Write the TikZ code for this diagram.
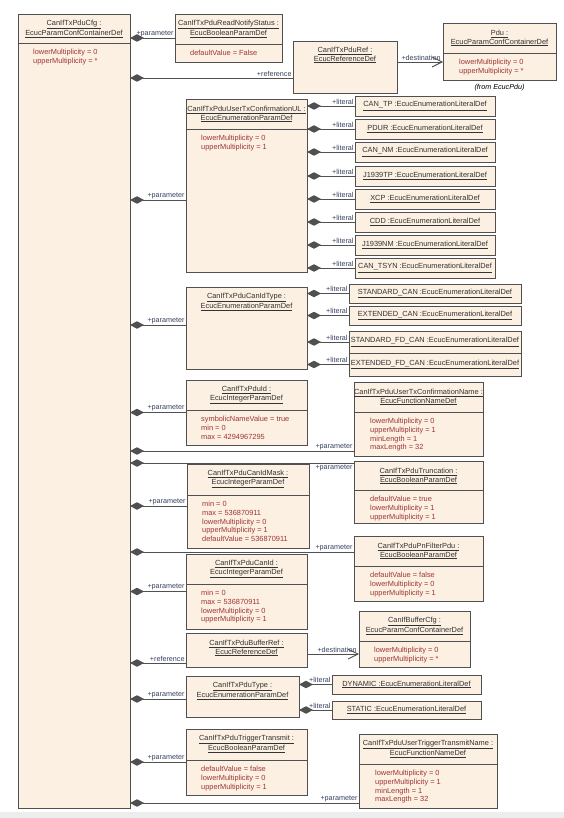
\documentclass[tikz,border=0pt]{standalone}
\usepackage{fontspec}
\setmainfont{Liberation Sans}
\usetikzlibrary{arrows.meta}
\definecolor{boxfill}{HTML}{FBF0E1}
\definecolor{boxline}{HTML}{505050}
\definecolor{attrred}{HTML}{A03434}
\definecolor{lblblue}{HTML}{35415E}
\definecolor{ttlgray}{HTML}{333333}

\begin{document}
\begin{tikzpicture}[x=1pt,y=-1pt,
	ebox/.style={draw=boxline, fill=boxfill, line width=0.9pt, anchor=north west, inner sep=0pt, outer sep=0pt},
	lit/.style={draw=boxline, fill=boxfill, line width=0.9pt, inner sep=0pt, outer sep=0pt, font=\fontsize{7.4}{8.8}\selectfont, text=ttlgray},
	ttl/.style={align=center, inner sep=0pt, font=\fontsize{7.4}{8.8}\selectfont, text=ttlgray},
	attr/.style={align=left, anchor=north west, inner sep=0pt, font=\fontsize{7.4}{8.8}\selectfont, text=attrred},
	sepl/.style={draw=boxline, line width=0.9pt},
	comp/.style={draw=boxline, line width=0.9pt, {Diamond[length=14pt,width=7.5pt]}-},
	dest/.style={draw=boxline, line width=0.9pt, -{Straight Barb[length=10pt,width=10pt]}},
	lbl/.style={inner sep=1pt, font=\fontsize{7.2}{8}\selectfont, text=lblblue}]

	\useasboundingbox (0,0) rectangle (564,818);
	\fill[white] (0,0) rectangle (564,818);
	\fill[black!7] (0,812) rectangle (564,818);

	% container
	\node[ebox, minimum width=112pt, minimum height=794pt] (cfg) at (18,14) {};
	\node[ttl] at ([yshift=-15pt]cfg.north) {\underline{CanIfTxPduCfg :}\\\underline{EcucParamConfContainerDef}};
	\draw[sepl] ([yshift=-29pt]cfg.north west) -- ([yshift=-29pt]cfg.north east);
	\node[attr] at ([xshift=15pt,yshift=-35pt]cfg.north west) {lowerMultiplicity = 0\\upperMultiplicity = *};

	% top row
	\node[ebox, minimum width=107pt, minimum height=48pt] (rns) at (175,14) {};
	\node[ttl] at ([yshift=-15pt]rns.north) {\underline{CanIfTxPduReadNotifyStatus :}\\\underline{EcucBooleanParamDef}};
	\draw[sepl] ([yshift=-30pt]rns.north west) -- ([yshift=-30pt]rns.north east);
	\node[attr] at ([xshift=15pt,yshift=-36pt]rns.north west) {defaultValue = False};

	\node[ebox, minimum width=104pt, minimum height=52pt] (ref) at (293,41) {};
	\node[ttl] at ([yshift=-14pt]ref.north) {\underline{CanIfTxPduRef :}\\\underline{EcucReferenceDef}};

	\node[ebox, minimum width=113pt, minimum height=57pt] (pdu) at (443,23) {};
	\node[ttl] at ([yshift=-15pt]pdu.north) {\underline{Pdu :}\\\underline{EcucParamConfContainerDef}};
	\draw[sepl] ([yshift=-30pt]pdu.north west) -- ([yshift=-30pt]pdu.north east);
	\node[attr] at ([xshift=16pt,yshift=-36pt]pdu.north west) {lowerMultiplicity = 0\\upperMultiplicity = *};
	\node[lbl, text=black, font=\fontsize{7.2}{8}\selectfont\itshape] (frompdu) at ([yshift=-8pt]pdu.south) {(from EcucPdu)};

	% UserTxConfirmationUL
	\node[ebox, minimum width=121pt, minimum height=173pt] (ul) at (186,99) {};
	\node[ttl] at ([yshift=-15pt]ul.north) {\underline{CanIfTxPduUserTxConfirmationUL :}\\\underline{EcucEnumerationParamDef}};
	\draw[sepl] ([yshift=-30pt]ul.north west) -- ([yshift=-30pt]ul.north east);
	\node[attr] at ([xshift=15pt,yshift=-36pt]ul.north west) {lowerMultiplicity = 0\\upperMultiplicity = 1};

	\node[lit, minimum width=140pt, minimum height=20pt] (l1) at (425,106) {\underline{CAN\_TP :EcucEnumerationLiteralDef}};
	\node[lit, minimum width=140pt, minimum height=20pt] (l2) at (425,129) {\underline{PDUR :EcucEnumerationLiteralDef}};
	\node[lit, minimum width=140pt, minimum height=20pt] (l3) at (425,152) {\underline{CAN\_NM :EcucEnumerationLiteralDef}};
	\node[lit, minimum width=140pt, minimum height=20pt] (l4) at (425,176) {\underline{J1939TP :EcucEnumerationLiteralDef}};
	\node[lit, minimum width=140pt, minimum height=20pt] (l5) at (425,199) {\underline{XCP :EcucEnumerationLiteralDef}};
	\node[lit, minimum width=140pt, minimum height=20pt] (l6) at (425,222) {\underline{CDD :EcucEnumerationLiteralDef}};
	\node[lit, minimum width=140pt, minimum height=20pt] (l7) at (425,245) {\underline{J1939NM :EcucEnumerationLiteralDef}};
	\node[lit, minimum width=140pt, minimum height=20pt] (l8) at (425,268) {\underline{CAN\_TSYN :EcucEnumerationLiteralDef}};

	% CanIdType
	\node[ebox, minimum width=121pt, minimum height=82pt] (cit) at (186,287) {};
	\node[ttl] at ([yshift=-15pt]cit.north) {\underline{CanIfTxPduCanIdType :}\\\underline{EcucEnumerationParamDef}};

	\node[lit, minimum width=172pt, minimum height=19pt] (m1) at (435,293.5) {\underline{STANDARD\_CAN :EcucEnumerationLiteralDef}};
	\node[lit, minimum width=172pt, minimum height=19pt] (m2) at (435,315.5) {\underline{EXTENDED\_CAN :EcucEnumerationLiteralDef}};
	\node[lit, minimum width=172pt, minimum height=22pt] (m3) at (435,342) {\underline{STANDARD\_FD\_CAN :EcucEnumerationLiteralDef}};
	\node[lit, minimum width=172pt, minimum height=23pt] (m4) at (435,364.5) {\underline{EXTENDED\_FD\_CAN :EcucEnumerationLiteralDef}};

	% PduId, UserTxConfirmationName
	\node[ebox, minimum width=121pt, minimum height=65pt] (pid) at (186,380) {};
	\node[ttl] at ([yshift=-15pt]pid.north) {\underline{CanIfTxPduId :}\\\underline{EcucIntegerParamDef}};
	\draw[sepl] ([yshift=-30pt]pid.north west) -- ([yshift=-30pt]pid.north east);
	\node[attr] at ([xshift=15pt,yshift=-36pt]pid.north west) {symbolicNameValue = true\\min = 0\\max = 4294967295};

	\node[ebox, minimum width=129pt, minimum height=74pt] (utcn) at (354,382) {};
	\node[ttl] at ([yshift=-15pt]utcn.north) {\underline{CanIfTxPduUserTxConfirmationName :}\\\underline{EcucFunctionNameDef}};
	\draw[sepl] ([yshift=-30pt]utcn.north west) -- ([yshift=-30pt]utcn.north east);
	\node[attr] at ([xshift=16pt,yshift=-36pt]utcn.north west) {lowerMultiplicity = 0\\upperMultiplicity = 1\\minLength = 1\\maxLength = 32};

	% Truncation, CanIdMask
	\node[ebox, minimum width=129pt, minimum height=62pt] (trc) at (354,461) {};
	\node[ttl] at ([yshift=-15pt]trc.north) {\underline{CanIfTxPduTruncation :}\\\underline{EcucBooleanParamDef}};
	\draw[sepl] ([yshift=-29pt]trc.north west) -- ([yshift=-29pt]trc.north east);
	\node[attr] at ([xshift=16pt,yshift=-35pt]trc.north west) {defaultValue = true\\lowerMultiplicity = 1\\upperMultiplicity = 1};

	\node[ebox, minimum width=122pt, minimum height=84pt] (cim) at (187,464) {};
	\node[ttl] at ([yshift=-15pt]cim.north) {\underline{CanIfTxPduCanIdMask :}\\\underline{EcucIntegerParamDef}};
	\draw[sepl] ([yshift=-31pt]cim.north west) -- ([yshift=-31pt]cim.north east);
	\node[attr] at ([xshift=15pt,yshift=-37pt]cim.north west) {min = 0\\max = 536870911\\lowerMultiplicity = 0\\upperMultiplicity = 1\\defaultValue = 536870911};

	% PnFilterPdu, CanId
	\node[ebox, minimum width=129pt, minimum height=65pt] (pnf) at (354,536) {};
	\node[ttl] at ([yshift=-15pt]pnf.north) {\underline{CanIfTxPduPnFilterPdu :}\\\underline{EcucBooleanParamDef}};
	\draw[sepl] ([yshift=-30pt]pnf.north west) -- ([yshift=-30pt]pnf.north east);
	\node[attr] at ([xshift=16pt,yshift=-36pt]pnf.north west) {defaultValue = false\\lowerMultiplicity = 0\\upperMultiplicity = 1};

	\node[ebox, minimum width=121pt, minimum height=75pt] (cid) at (186,554) {};
	\node[ttl] at ([yshift=-15pt]cid.north) {\underline{CanIfTxPduCanId :}\\\underline{EcucIntegerParamDef}};
	\draw[sepl] ([yshift=-30pt]cid.north west) -- ([yshift=-30pt]cid.north east);
	\node[attr] at ([xshift=15pt,yshift=-36pt]cid.north west) {min = 0\\max = 536870911\\lowerMultiplicity = 0\\upperMultiplicity = 1};

	% BufferRef, BufferCfg
	\node[ebox, minimum width=121pt, minimum height=34pt] (bref) at (186,633) {};
	\node[ttl] at ([yshift=-15pt]bref.north) {\underline{CanIfTxPduBufferRef :}\\\underline{EcucReferenceDef}};

	\node[ebox, minimum width=111pt, minimum height=56pt] (bcfg) at (359,611) {};
	\node[ttl] at ([yshift=-15pt]bcfg.north) {\underline{CanIfBufferCfg :}\\\underline{EcucParamConfContainerDef}};
	\draw[sepl] ([yshift=-30pt]bcfg.north west) -- ([yshift=-30pt]bcfg.north east);
	\node[attr] at ([xshift=15pt,yshift=-36pt]bcfg.north west) {lowerMultiplicity = 0\\upperMultiplicity = *};

	% PduType
	\node[ebox, minimum width=113pt, minimum height=41pt] (typ) at (186,676) {};
	\node[ttl] at ([yshift=-15pt]typ.north) {\underline{CanIfTxPduType :}\\\underline{EcucEnumerationParamDef}};

	\node[lit, minimum width=149pt, minimum height=19pt] (n1) at (406.5,684.5) {\underline{DYNAMIC :EcucEnumerationLiteralDef}};
	\node[lit, minimum width=149pt, minimum height=18pt] (n2) at (406.5,710) {\underline{STATIC :EcucEnumerationLiteralDef}};

	% TriggerTransmit, UserTriggerTransmitName
	\node[ebox, minimum width=121pt, minimum height=66pt] (trg) at (186,729) {};
	\node[ttl] at ([yshift=-15pt]trg.north) {\underline{CanIfTxPduTriggerTransmit :}\\\underline{EcucBooleanParamDef}};
	\draw[sepl] ([yshift=-31pt]trg.north west) -- ([yshift=-31pt]trg.north east);
	\node[attr] at ([xshift=15pt,yshift=-37pt]trg.north west) {defaultValue = false\\lowerMultiplicity = 0\\upperMultiplicity = 1};

	\node[ebox, minimum width=138pt, minimum height=74pt] (utt) at (359,734) {};
	\node[ttl] at ([yshift=-15pt]utt.north) {\underline{CanIfTxPduUserTriggerTransmitName :}\\\underline{EcucFunctionNameDef}};
	\draw[sepl] ([yshift=-30pt]utt.north west) -- ([yshift=-30pt]utt.north east);
	\node[attr] at ([xshift=16pt,yshift=-36pt]utt.north west) {lowerMultiplicity = 0\\upperMultiplicity = 1\\minLength = 1\\maxLength = 32};

	% connector ends off the box centres
	\coordinate (refin)  at ([yshift=-11pt]ref.west);
	\coordinate (refout) at ([yshift=5pt]ref.east);
	\coordinate (ulin)   at ([yshift=-14.5pt]ul.west);
	\coordinate (citin)  at ([yshift=3pt]cit.west);
	\coordinate (utcnin) at ([yshift=-32pt]utcn.west);
	\coordinate (trcin)  at ([yshift=29pt]trc.west);
	\coordinate (pnfin)  at ([yshift=16.5pt]pnf.west);
	\coordinate (brefin) at ([yshift=-13pt]bref.west);
	\coordinate (brefout) at ([yshift=-4pt]bref.east);
	\coordinate (typin)  at ([yshift=-2.5pt]typ.west);
	\coordinate (uttin)  at ([yshift=-32pt]utt.west);

	% container connectors
	\draw[comp] (cfg.east |- rns) -- node[pos=1, lbl, above left] {+parameter} (rns);
	\draw[comp] (cfg.east |- refin) -- node[pos=1, lbl, above left] {+reference} (refin);
	\draw[comp] (cfg.east |- ulin) -- node[pos=1, lbl, above left] {+parameter} (ulin);
	\draw[comp] (cfg.east |- citin) -- node[pos=1, lbl, above left] {+parameter} (citin);
	\draw[comp] (cfg.east |- pid) -- node[pos=1, lbl, above left] {+parameter} (pid);
	\draw[comp] (cfg.east |- utcnin) -- node[pos=1, lbl, above left] {+parameter} (utcnin);
	\draw[comp] (cfg.east |- trcin) -- node[pos=1, lbl, below left] {+parameter} (trcin);
	\draw[comp] (cfg.east |- cim) -- node[pos=1, lbl, above left] {+parameter} (cim);
	\draw[comp] (cfg.east |- pnfin) -- node[pos=1, lbl, above left] {+parameter} (pnfin);
	\draw[comp] (cfg.east |- cid) -- node[pos=1, lbl, above left] {+parameter} (cid);
	\draw[comp] (cfg.east |- brefin) -- node[pos=1, lbl, above left] {+reference} (brefin);
	\draw[comp] (cfg.east |- typin) -- node[pos=1, lbl, above left] {+parameter} (typin);
	\draw[comp] (cfg.east |- trg) -- node[pos=1, lbl, above left] {+parameter} (trg);
	\draw[comp] (cfg.east |- uttin) -- node[pos=1, lbl, above left] {+parameter} (uttin);

	% destinations
	\draw[dest] (refout) -- node[pos=1, lbl, above left, xshift=-1pt] {+destination} (pdu.west |- refout);
	\draw[dest] (brefout) -- node[pos=1, lbl, above left, xshift=-1pt] {+destination} (bcfg.west |- brefout);

	% literals
	\draw[comp] (ul.east |- l1) -- node[pos=1, lbl, above left] {+literal} (l1);
	\draw[comp] (ul.east |- l2) -- node[pos=1, lbl, above left] {+literal} (l2);
	\draw[comp] (ul.east |- l3) -- node[pos=1, lbl, above left] {+literal} (l3);
	\draw[comp] (ul.east |- l4) -- node[pos=1, lbl, above left] {+literal} (l4);
	\draw[comp] (ul.east |- l5) -- node[pos=1, lbl, above left] {+literal} (l5);
	\draw[comp] (ul.east |- l6) -- node[pos=1, lbl, above left] {+literal} (l6);
	\draw[comp] (ul.east |- l7) -- node[pos=1, lbl, above left] {+literal} (l7);
	\draw[comp] (ul.east |- l8) -- node[pos=1, lbl, above left] {+literal} (l8);

	\draw[comp] (cit.east |- m1) -- node[pos=1, lbl, above left] {+literal} (m1);
	\draw[comp] (cit.east |- m2) -- node[pos=1, lbl, above left] {+literal} (m2);
	\draw[comp] (cit.east |- m3) -- node[pos=1, lbl, above left] {+literal} (m3);
	\draw[comp] (cit.east |- m4) -- node[pos=1, lbl, above left] {+literal} (m4);

	\draw[comp] (typ.east |- n1) -- node[pos=1, lbl, above left] {+literal} (n1);
	\draw[comp] (typ.east |- n2) -- node[pos=1, lbl, above left] {+literal} (n2);

\end{tikzpicture}
\end{document}
